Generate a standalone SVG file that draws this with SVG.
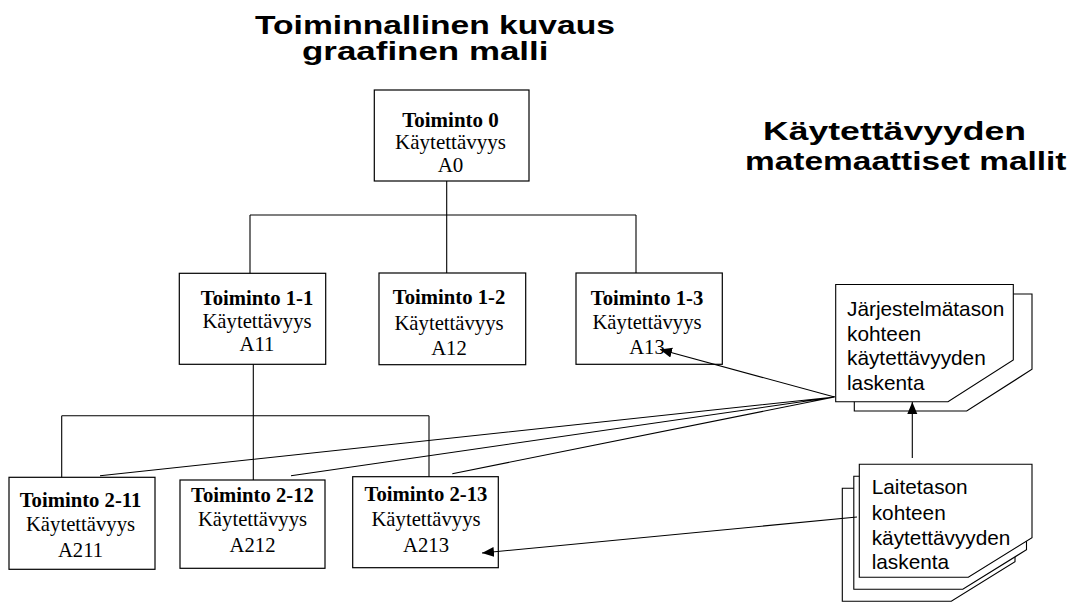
<svg xmlns="http://www.w3.org/2000/svg" width="1072" height="603" viewBox="0 0 1072 603">
<style>
.box{fill:#fff;stroke:#000;stroke-width:1.2}
.page{fill:#fff;stroke:#000;stroke-width:1.1}
.ln{fill:none;stroke:#000;stroke-width:1.1}
.t{font-family:"Liberation Serif","Times New Roman",serif;font-size:20.7px;text-anchor:middle;fill:#000}
.tb{font-weight:bold}
.d{font-family:"Liberation Sans",Arial,sans-serif;font-size:20.8px;fill:#000}
.h{font-family:"Liberation Sans",Arial,sans-serif;font-size:25px;font-weight:bold;fill:#000}
</style>
<defs>
<marker id="ah" markerUnits="userSpaceOnUse" markerWidth="14" markerHeight="12" refX="12" refY="5" orient="auto">
<path d="M0,0 L12,5 L0,10 Z" fill="#000"/>
</marker>
</defs>
<rect width="1072" height="603" fill="#fff"/>

<g id="titles">
<text class="h" x="255" y="34" textLength="360" lengthAdjust="spacingAndGlyphs">Toiminnallinen kuvaus</text>
<text class="h" x="302" y="60" textLength="246.5" lengthAdjust="spacingAndGlyphs">graafinen malli</text>
<text class="h" x="763" y="140" textLength="263" lengthAdjust="spacingAndGlyphs">Käytettävyyden</text>
<text class="h" x="745" y="169.5" textLength="321.5" lengthAdjust="spacingAndGlyphs">matemaattiset mallit</text>
</g>

<g id="n0">
<rect class="box" x="374.3" y="90" width="154.7" height="91"/>
<text class="t tb" x="450.5" y="126.5" style="font-size:21px">Toiminto 0</text>
<text class="t" x="450.5" y="149" style="font-size:21px">Käytettävyys</text>
<text class="t" x="450.5" y="171.5" style="font-size:21px">A0</text>
</g>

<g id="n11">
<rect class="box" x="179.3" y="273.3" width="146.4" height="91"/>
<text class="t tb" x="257" y="304.5">Toiminto 1-1</text>
<text class="t" x="257" y="328">Käytettävyys</text>
<text class="t" x="257" y="351">A11</text>
</g>

<g id="n12">
<rect class="box" x="379" y="273" width="146.7" height="91.7"/>
<text class="t tb" x="449" y="304">Toiminto 1-2</text>
<text class="t" x="449" y="329.5">Käytettävyys</text>
<text class="t" x="449" y="354.5">A12</text>
</g>

<g id="n13">
<rect class="box" x="576" y="273" width="146.3" height="91.3"/>
<text class="t tb" x="647" y="305">Toiminto 1-3</text>
<text class="t" x="647" y="329">Käytettävyys</text>
<text class="t" x="647" y="353.5">A13</text>
</g>

<g id="n211">
<rect class="box" x="9" y="477.3" width="146" height="92"/>
<text class="t tb" x="80.5" y="507">Toiminto 2-11</text>
<text class="t" x="80.5" y="531">Käytettävyys</text>
<text class="t" x="80.5" y="556.5">A211</text>
</g>

<g id="n212">
<rect class="box" x="180" y="480" width="145" height="88.3"/>
<text class="t tb" x="252.5" y="501.5">Toiminto 2-12</text>
<text class="t" x="252.5" y="526">Käytettävyys</text>
<text class="t" x="252.5" y="551.5">A212</text>
</g>

<g id="n213">
<rect class="box" x="352.7" y="476.7" width="145.6" height="91"/>
<text class="t tb" x="426" y="500.7">Toiminto 2-13</text>
<text class="t" x="426" y="525.7">Käytettävyys</text>
<text class="t" x="426" y="551.5">A213</text>
</g>

<g id="doc-system">
<polygon class="page" points="854.3,294 1032,294 1032,369.3 966.7,411 854.3,411"/>
<polygon class="page" points="835.7,284.5 1013.3,284.5 1013.3,360 948,401.7 835.7,401.7"/>
<text class="d" x="847" y="316">Järjestelmätason</text>
<text class="d" x="847" y="340.7">kohteen</text>
<text class="d" x="847" y="365.4">käytettävyyden</text>
<text class="d" x="847" y="390">laskenta</text>
</g>

<g id="doc-device">
<polygon class="page" points="842.3,488.3 1015,488.3 1015,561.7 951.3,601.3 842.3,601.3"/>
<polygon class="page" points="853.8,476.3 1026.5,476.3 1026.5,549.7 962.8,589.3 853.8,589.3"/>
<polygon class="page" points="859.3,464.3 1032,464.3 1032,537.7 968.3,577.3 859.3,577.3"/>
<text class="d" x="871.7" y="494">Laitetason</text>
<text class="d" x="871.7" y="519.5">kohteen</text>
<text class="d" x="871.7" y="544.5">käytettävyyden</text>
<text class="d" x="871.7" y="569.3">laskenta</text>
</g>

<g id="connectors">
<path class="ln" d="M446.7,181 V273 M250,215 H636 M250,215 V273.3 M636,215 V273"/>
<path class="ln" d="M253.3,364.3 V480 M61.7,415.7 H429 M61.7,415.7 V477.3 M429,415.7 V476.7"/>
<path class="ln" d="M834.5,397 L100,475.7 M834.5,397 L291,475.7 M834.5,397 L452.3,473.7"/>
<path class="ln" d="M834.5,397 L660,349.5" marker-end="url(#ah)"/>
<path class="ln" d="M857,517 L482,553" marker-end="url(#ah)"/>
<path class="ln" d="M912.3,458 L912.3,402" marker-end="url(#ah)"/>
</g>
</svg>
